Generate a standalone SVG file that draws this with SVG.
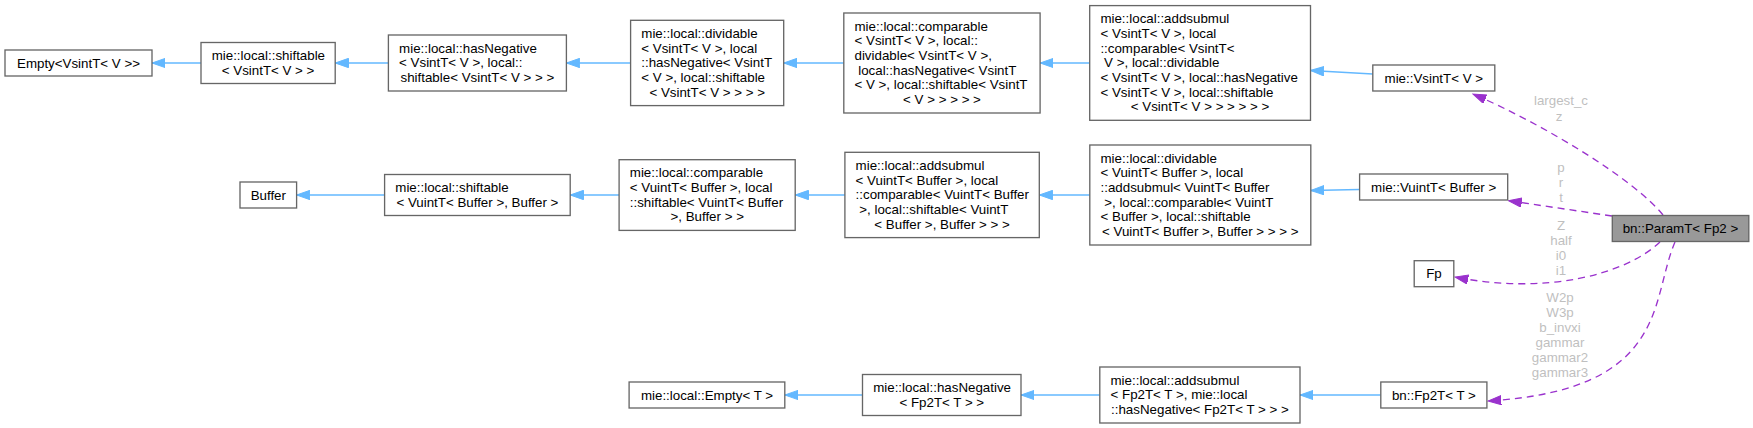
<svg xmlns="http://www.w3.org/2000/svg" width="1753" height="428" viewBox="0 0 1753 428" xml:space="preserve">
<defs>
<style>
.n rect{fill:#ffffff;stroke:#666666;stroke-width:1.33}
.n.hl rect{fill:#999999}
.n text{font-family:"Liberation Sans",Arial,sans-serif;font-size:13.33px;fill:#000000;white-space:pre}
.c{text-anchor:middle}
.inh{fill:none;stroke:#63b8ff;stroke-width:1.33;marker-end:url(#ab)}
.use{fill:none;stroke:#9a32cd;stroke-width:1.33;stroke-dasharray:7,5;marker-end:url(#ap)}
.lbl{font-family:"Liberation Sans",Arial,sans-serif;font-size:13.33px;fill:#bfbfbf;text-anchor:middle}
</style>
<marker id="ab" markerUnits="userSpaceOnUse" markerWidth="14" markerHeight="10" refX="13.3" refY="4.65" orient="auto"><path d="M0,0 L13.3,4.65 L0,9.3 Z" fill="#63b8ff" stroke="#63b8ff" stroke-width="1"/></marker>
<marker id="ap" markerUnits="userSpaceOnUse" markerWidth="14" markerHeight="10" refX="13.3" refY="4.65" orient="auto"><path d="M0,0 L13.3,4.65 L0,9.3 Z" fill="#9a32cd" stroke="#9a32cd" stroke-width="1"/></marker>
</defs>
<rect x="0" y="0" width="1753" height="428" fill="#ffffff"/>

<g id="edges">
<path class="inh" d="M201,63 L152,63"/>
<path class="inh" d="M388.4,63 L335.2,63"/>
<path class="inh" d="M630.6,63 L566.4,63"/>
<path class="inh" d="M843.8,63 L783.7,63"/>
<path class="inh" d="M1089.7,63 L1040.1,63"/>
<path class="inh" d="M1372.8,74 L1310.5,70.5"/>
<path class="inh" d="M384.6,195 L296.6,195"/>
<path class="inh" d="M619.1,195 L570.2,195"/>
<path class="inh" d="M844.9,195 L795.2,195"/>
<path class="inh" d="M1089.8,195 L1039.3,195"/>
<path class="inh" d="M1359.6,189.5 L1310.8,190.5"/>
<path class="inh" d="M862.5,395 L784.8,395"/>
<path class="inh" d="M1099.8,395 L1021,395"/>
<path class="inh" d="M1380.8,395 L1300,395"/>
<path class="use" d="M1663,215 C1635,180 1545,125 1473,94"/>
<path class="use" d="M1612,216 L1508.5,200.7"/>
<path class="use" d="M1660,242 C1625,275 1545,295 1455,277"/>
<path class="use" d="M1675,242 C1650,300 1670,390 1488,401"/>
<text class="lbl" x="1561" y="105.4">largest_c</text>
<text class="lbl" x="1559" y="120.7">z</text>
<text class="lbl" x="1561" y="172.2">p</text>
<text class="lbl" x="1561" y="187">r</text>
<text class="lbl" x="1561" y="201.5">t</text>
<text class="lbl" x="1561" y="229.7">Z</text>
<text class="lbl" x="1561" y="244.7">half</text>
<text class="lbl" x="1561" y="259.7">i0</text>
<text class="lbl" x="1561" y="274.7">i1</text>
<text class="lbl" x="1560" y="302.2">W2p</text>
<text class="lbl" x="1560" y="317.2">W3p</text>
<text class="lbl" x="1560" y="332.2">b_invxi</text>
<text class="lbl" x="1560" y="347.2">gammar</text>
<text class="lbl" x="1560" y="362.2">gammar2</text>
<text class="lbl" x="1560" y="377.2">gammar3</text>
</g>

<g id="n1" class="n"><rect x="5" y="50" width="147" height="26"/><text class="c" x="78.5" y="67.7">Empty&lt;VsintT&lt; V &gt;&gt;</text></g>
<g id="n2" class="n"><rect x="201" y="42.5" width="134.2" height="41"/>
<text x="211.7" y="60.2">mie::local::shiftable</text>
<text class="c" x="268.1" y="74.9">&lt; VsintT&lt; V &gt; &gt;</text></g>
<g id="n3" class="n"><rect x="388.4" y="35" width="178" height="56"/>
<text x="399.1" y="52.7">mie::local::hasNegative</text>
<text x="399.1" y="67.4">&lt; VsintT&lt; V &gt;, local::</text>
<text class="c" x="477.4" y="82">shiftable&lt; VsintT&lt; V &gt; &gt; &gt;</text></g>
<g id="n4" class="n"><rect x="630.6" y="20.3" width="153.1" height="85.3"/>
<text x="641.3" y="38">mie::local::dividable</text>
<text x="641.3" y="52.7">&lt; VsintT&lt; V &gt;, local</text>
<text x="641.3" y="67.4">::hasNegative&lt; VsintT</text>
<text x="641.3" y="82">&lt; V &gt;, local::shiftable</text>
<text class="c" x="707.2" y="96.7">&lt; VsintT&lt; V &gt; &gt; &gt; &gt;</text></g>
<g id="n5" class="n"><rect x="843.8" y="13" width="196.3" height="100"/>
<text x="854.5" y="30.7">mie::local::comparable</text>
<text x="854.5" y="45.4">&lt; VsintT&lt; V &gt;, local::</text>
<text x="854.5" y="60">dividable&lt; VsintT&lt; V &gt;,</text>
<text x="854.5" y="74.7"> local::hasNegative&lt; VsintT</text>
<text x="854.5" y="89.4">&lt; V &gt;, local::shiftable&lt; VsintT</text>
<text class="c" x="942" y="104">&lt; V &gt; &gt; &gt; &gt; &gt;</text></g>
<g id="n6" class="n"><rect x="1089.7" y="5.6" width="220.8" height="114.7"/>
<text x="1100.4" y="23.3">mie::local::addsubmul</text>
<text x="1100.4" y="38">&lt; VsintT&lt; V &gt;, local</text>
<text x="1100.4" y="52.6">::comparable&lt; VsintT&lt;</text>
<text x="1100.4" y="67.3"> V &gt;, local::dividable</text>
<text x="1100.4" y="82">&lt; VsintT&lt; V &gt;, local::hasNegative</text>
<text x="1100.4" y="96.6">&lt; VsintT&lt; V &gt;, local::shiftable</text>
<text class="c" x="1200.1" y="111.3">&lt; VsintT&lt; V &gt; &gt; &gt; &gt; &gt; &gt;</text></g>
<g id="n7" class="n"><rect x="1372.8" y="65" width="122" height="26"/><text class="c" x="1433.8" y="82.7">mie::VsintT&lt; V &gt;</text></g>

<g id="n8" class="n"><rect x="240" y="182" width="56.6" height="26"/><text class="c" x="268.3" y="199.7">Buffer</text></g>
<g id="n9" class="n"><rect x="384.6" y="174.5" width="185.6" height="41"/>
<text x="395.3" y="192.2">mie::local::shiftable</text>
<text class="c" x="477.4" y="206.9">&lt; VuintT&lt; Buffer &gt;, Buffer &gt;</text></g>
<g id="n10" class="n"><rect x="619.1" y="159.7" width="176.1" height="70.7"/>
<text x="629.8" y="177.4">mie::local::comparable</text>
<text x="629.8" y="192">&lt; VuintT&lt; Buffer &gt;, local</text>
<text x="629.8" y="206.7">::shiftable&lt; VuintT&lt; Buffer</text>
<text class="c" x="707.2" y="221.4">&gt;, Buffer &gt; &gt;</text></g>
<g id="n11" class="n"><rect x="844.9" y="152.3" width="194.4" height="85.3"/>
<text x="855.6" y="170">mie::local::addsubmul</text>
<text x="855.6" y="184.7">&lt; VuintT&lt; Buffer &gt;, local</text>
<text x="855.6" y="199.4">::comparable&lt; VuintT&lt; Buffer</text>
<text x="855.6" y="214"> &gt;, local::shiftable&lt; VuintT</text>
<text class="c" x="942.1" y="228.7">&lt; Buffer &gt;, Buffer &gt; &gt; &gt;</text></g>
<g id="n12" class="n"><rect x="1089.8" y="145" width="221" height="100"/>
<text x="1100.5" y="162.7">mie::local::dividable</text>
<text x="1100.5" y="177.4">&lt; VuintT&lt; Buffer &gt;, local</text>
<text x="1100.5" y="192">::addsubmul&lt; VuintT&lt; Buffer</text>
<text x="1100.5" y="206.7"> &gt;, local::comparable&lt; VuintT</text>
<text x="1100.5" y="221.4">&lt; Buffer &gt;, local::shiftable</text>
<text class="c" x="1200.3" y="236">&lt; VuintT&lt; Buffer &gt;, Buffer &gt; &gt; &gt; &gt;</text></g>
<g id="n13" class="n"><rect x="1359.6" y="174" width="148.1" height="26"/><text class="c" x="1433.7" y="191.7">mie::VuintT&lt; Buffer &gt;</text></g>
<g id="n14" class="n hl"><rect x="1612.3" y="215.5" width="136.5" height="26"/><text class="c" x="1680.5" y="233.2">bn::ParamT&lt; Fp2 &gt;</text></g>
<g id="n15" class="n"><rect x="1414.2" y="260.7" width="39.6" height="26"/><text class="c" x="1434" y="278.4">Fp</text></g>

<g id="n16" class="n"><rect x="629.1" y="382" width="155.7" height="26"/><text class="c" x="707" y="399.7">mie::local::Empty&lt; T &gt;</text></g>
<g id="n17" class="n"><rect x="862.5" y="374.5" width="158.5" height="41"/>
<text x="873.2" y="392.2">mie::local::hasNegative</text>
<text class="c" x="941.8" y="406.9">&lt; Fp2T&lt; T &gt; &gt;</text></g>
<g id="n18" class="n"><rect x="1099.8" y="367" width="200.2" height="56"/>
<text x="1110.5" y="384.7">mie::local::addsubmul</text>
<text x="1110.5" y="399.4">&lt; Fp2T&lt; T &gt;, mie::local</text>
<text class="c" x="1199.9" y="414">::hasNegative&lt; Fp2T&lt; T &gt; &gt; &gt;</text></g>
<g id="n19" class="n"><rect x="1380.8" y="382" width="106.1" height="26"/><text class="c" x="1433.9" y="399.7">bn::Fp2T&lt; T &gt;</text></g>
</svg>
